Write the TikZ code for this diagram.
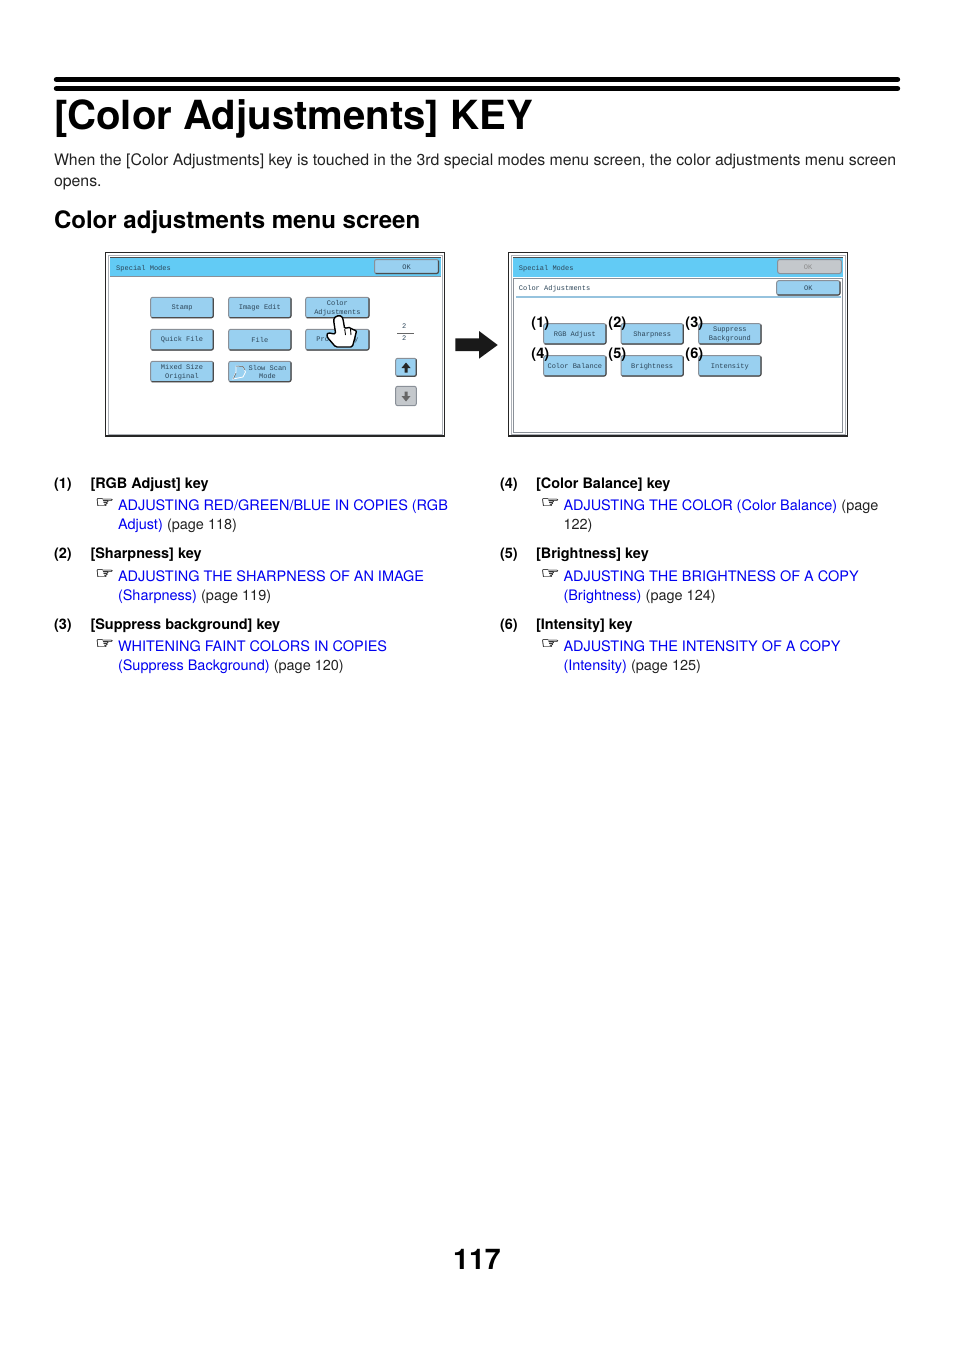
\documentclass[tikz,border=0pt]{standalone}
\usepackage{fontspec}
\setmainfont{TeX Gyre Heros}
\newfontfamily\monof{Liberation Mono}
\newfontfamily\symf{DejaVu Sans}[FakeStretch=1.35,RawFeature={embolden=1.3}]
\definecolor{barblue}{HTML}{62CBF5}
\definecolor{btnblue}{HTML}{99D0F0}
\definecolor{btntext}{HTML}{2C4558}
\definecolor{linkblue}{HTML}{0000F0}
\definecolor{frameg}{HTML}{8A9098}
\definecolor{greybtn}{HTML}{C4C8CC}
\definecolor{txt}{HTML}{222222}
\tikzset{
  x=1pt,y=-1pt,
  base/.style={inner sep=0pt,outer sep=0pt,anchor=base west,text=txt},
  title/.style={base,font=\fontsize{40.15}{40.15}\selectfont\bfseries,text=black},
  head/.style={base,font=\fontsize{24.05}{24.05}\selectfont\bfseries,text=black},
  para/.style={base,font=\fontsize{15.85}{15.85}\selectfont},
  keyl/.style={base,font=\fontsize{14.45}{14.45}\selectfont\bfseries,text=black},
  link/.style={base,font=\fontsize{14.47}{14.47}\selectfont,text=linkblue},
  plain/.style={base,font=\fontsize{14.47}{14.47}\selectfont},
  point/.style={base,font=\symf\fontsize{16}{16}\selectfont,text=black!80},
  callout/.style={inner sep=0pt,font=\fontsize{14.5}{14.5}\selectfont\bfseries,text=black},
  scr/.style={inner sep=0pt,align=center,yshift=-0.4pt,font=\monof\fontsize{7}{8.6}\selectfont,text=btntext},
  scrl/.style={scr,anchor=west},
  btnshade/.style={draw=frameg,line width=1pt,rounded corners=2pt,fill=btnblue},
  btnedge/.style={draw=black!70,line width=1.2pt,rounded corners=2pt},
  frame/.style={draw=black!85,line width=1.3pt,fill=white},
  rulebar/.style={draw=black,line width=5.4pt,line cap=round},
}
% #1 name, #2 x0, #3 y0, #4 x1, #5 y1, #6 text
\newcommand{\keybtn}[6]{%
  \path[btnshade] (#2,#3) rectangle (#4,#5);
  \draw[btnedge] (#4,#3+1) -- (#4,#5) -- (#2+1,#5);
  \node[scr] (#1) at ({(#2+#4)/2},{(#3+#5)/2}) {#6};
}
\begin{document}
\begin{tikzpicture}
\useasboundingbox[fill=white] (0,0) rectangle (954,1351);
% rules and headings
\draw[rulebar] (56.5,79.5) -- (897.5,79.5);
\draw[rulebar] (56.5,88.4) -- (897.5,88.4);
\node[title] (ttl) at (54,130) {[Color Adjustments] KEY};
\node[para] (p1) at (54,165.8) {When the [Color Adjustments] key is touched in the 3rd special modes menu screen, the color adjustments menu screen};
\node[para] (p2) at (54,186.6) {opens.};
\node[head] (h2) at (54,229) {Color adjustments menu screen};
% left screen
\draw[frame] (105.5,252.7) rectangle (444.5,436);
\draw[frameg!70,line width=.8pt] (108,255) rectangle (442,434.8);
\fill[barblue] (110,258) rectangle (440.5,276.5);
\draw[black!70,line width=.8pt] (110,257.5) -- (440.5,257.5);
\draw[frameg,line width=.6pt] (110,276.7) -- (440.5,276.7);
\node[scrl] (lt) at (116,268) {Special Modes};
\keybtn{lok}{374.5}{259.5}{438.5}{273.5}{OK}
\keybtn{b1}{150.7}{297.3}{213.3}{317.7}{Stamp}
\keybtn{b2}{228.7}{297.3}{291}{317.7}{Image Edit}
\keybtn{b3}{305.7}{297.3}{369}{317.7}{Color\\Adjustments}
\keybtn{b4}{150.7}{329.3}{213.3}{350}{Quick File}
\keybtn{b5}{228.7}{329.3}{291}{350}{File}
\keybtn{b6}{305.7}{329.3}{369}{350}{Proof Copy}
\keybtn{b7}{150.7}{361.3}{213.3}{381.7}{Mixed Size\\Original}
\path[btnshade] (228.7,361.3) rectangle (291,381.7);
\draw[btnedge] (291,362.3) -- (291,381.7) -- (229.7,381.7);
\node[scr] (b8) at (267.5,371.8) {Slow Scan\\Mode};
\draw[white,line width=.8pt,fill=btnblue] (236,366) -- (243,366.5) -- (245.5,372) -- (243,377) -- (233,379) -- (236,372) -- cycle;
\draw[black!70,line width=.5pt] (236,366) -- (243,366.5) -- (245,370) (233.5,378.5) -- (236,373);
\node[scr] (f1) at (404.3,326.2) {2};
\node[scr] (f2) at (404.3,338.2) {2};
\draw[black!60,line width=.6pt] (397,333.2) -- (413.7,333.2);
\path[btnshade] (395.7,358.3) rectangle (416.3,376.3);
\draw[btnedge] (416.3,359.3) -- (416.3,376.3) -- (396.7,376.3);
\fill[black!85] (406,362.5) -- (410.5,368) -- (407.5,368) -- (407.5,372.5) -- (404.5,372.5) -- (404.5,368) -- (401.5,368) -- cycle;
\path[draw=frameg,line width=1pt,rounded corners=2pt,fill=greybtn] (395.7,386.3) rectangle (416.3,405.7);
\fill[black!60] (406,401.5) -- (410.5,396) -- (407.5,396) -- (407.5,391.5) -- (404.5,391.5) -- (404.5,396) -- (401.5,396) -- cycle;
% hand
\draw[black,fill=white,line width=1.4pt,line join=round,rounded corners=1.5pt]
  (335.7,334) -- (333.7,321) .. controls (334,316) and (341,314) .. (343,319) -- (344.7,329)
  .. controls (348,326.5) and (351,328) .. (352,330) .. controls (354,329.5) and (356.5,331) .. (356,333)
  -- (354.3,340) -- (352.3,347) -- (335.7,347) -- (327.3,337.3) .. controls (326.5,334) and (328,332.5) .. (331,333.5) -- cycle;
\draw[black,line width=.9pt] (344.7,329) -- (345.5,335) (350.5,329) -- (351,335);
% arrow
\fill[black!90] (455.3,338.3) -- (479,338.3) -- (479,331) -- (497.7,345) -- (479,358.7) -- (479,351) -- (455.3,351) -- cycle;
% right screen
\draw[frame] (508.5,252.7) rectangle (847.5,436);
\draw[frameg!70,line width=.8pt] (511,255) rectangle (845,434.8);
\fill[barblue] (513.3,258) rectangle (843.3,276.5);
\draw[black!70,line width=.8pt] (513.3,257.5) -- (843.3,257.5);
\node[scrl] (rt) at (518.7,268) {Special Modes};
\path[draw=frameg,line width=1pt,rounded corners=2pt,fill=greybtn] (777.7,259.5) rectangle (841.3,273.5);
\node[scr,text=black!45] (rok) at (808,266.5) {OK};
\draw[frameg,line width=1pt,fill=white] (513.5,278.5) rectangle (842.7,432.7);
\node[scrl] (rs) at (518.7,288.3) {Color Adjustments};
\fill[btnblue!80!frameg] (515.7,296) rectangle (840.7,297.6);
\keybtn{rok2}{776.7}{280.7}{840}{295}{OK}
\keybtn{c1}{543.7}{323.7}{606}{344}{RGB Adjust}
\keybtn{c2}{621}{323.7}{683.3}{344}{Sharpness}
\keybtn{c3}{698.7}{323.7}{761}{344}{Suppress\\Background}
\keybtn{c4}{543.7}{355.7}{606}{376}{Color Balance}
\keybtn{c5}{621}{355.7}{683.3}{376}{Brightness}
\keybtn{c6}{698.7}{355.7}{761}{376}{Intensity}
\node[callout] (n1) at (540.3,323.5) {(1)};
\node[callout] (n2) at (617.3,323.5) {(2)};
\node[callout] (n3) at (694.3,323.5) {(3)};
\node[callout] (n4) at (540.3,355) {(4)};
\node[callout] (n5) at (617.3,355) {(5)};
\node[callout] (n6) at (694.3,355) {(6)};
% left list
\node[keyl] (k1n) at (54,488) {(1)};
\node[keyl] (k1) at (90.5,488) {[RGB Adjust] key};
\node[point] (k1p) at (95,507.5) {☞};
\node[link] (k1a) at (118,510) {ADJUSTING RED/GREEN/BLUE IN COPIES (RGB};
\node[link] (k1b) at (118,529) {Adjust)};
\node[plain,anchor=base west] (k1c) at ([xshift=4.2pt]k1b.base east) {(page 118)};
\node[keyl] (k2n) at (54,558) {(2)};
\node[keyl] (k2) at (90.5,558) {[Sharpness] key};
\node[point] (k2p) at (95,578.5) {☞};
\node[link] (k2a) at (118,581) {ADJUSTING THE SHARPNESS OF AN IMAGE};
\node[link] (k2b) at (118,600) {(Sharpness)};
\node[plain,anchor=base west] (k2c) at ([xshift=4.2pt]k2b.base east) {(page 119)};
\node[keyl] (k3n) at (54,629) {(3)};
\node[keyl] (k3) at (90.5,629) {[Suppress background] key};
\node[point] (k3p) at (95,648.5) {☞};
\node[link] (k3a) at (118,651) {WHITENING FAINT COLORS IN COPIES};
\node[link] (k3b) at (118,670) {(Suppress Background)};
\node[plain,anchor=base west] (k3c) at ([xshift=4.2pt]k3b.base east) {(page 120)};
% right list
\node[keyl] (k4n) at (500,488) {(4)};
\node[keyl] (k4) at (536,488) {[Color Balance] key};
\node[point] (k4p) at (540.5,507.5) {☞};
\node[link] (k4a) at (563.5,510) {ADJUSTING THE COLOR (Color Balance)};
\node[plain,anchor=base west] (k4c) at ([xshift=4.2pt]k4a.base east) {(page};
\node[plain] (k4d) at (563.5,529) {122)};
\node[keyl] (k5n) at (500,558) {(5)};
\node[keyl] (k5) at (536,558) {[Brightness] key};
\node[point] (k5p) at (540.5,578.5) {☞};
\node[link] (k5a) at (563.5,581) {ADJUSTING THE BRIGHTNESS OF A COPY};
\node[link] (k5b) at (563.5,600) {(Brightness)};
\node[plain,anchor=base west] (k5c) at ([xshift=4.2pt]k5b.base east) {(page 124)};
\node[keyl] (k6n) at (500,629) {(6)};
\node[keyl] (k6) at (536,629) {[Intensity] key};
\node[point] (k6p) at (540.5,648.5) {☞};
\node[link] (k6a) at (563.5,651) {ADJUSTING THE INTENSITY OF A COPY};
\node[link] (k6b) at (563.5,670) {(Intensity)};
\node[plain,anchor=base west] (k6c) at ([xshift=4.2pt]k6b.base east) {(page 125)};
% page number
\node[inner sep=0pt,font=\fontsize{28.5}{28.5}\selectfont\bfseries,text=black,anchor=base] (pg) at (477,1269) {117};
\end{tikzpicture}
\end{document}
